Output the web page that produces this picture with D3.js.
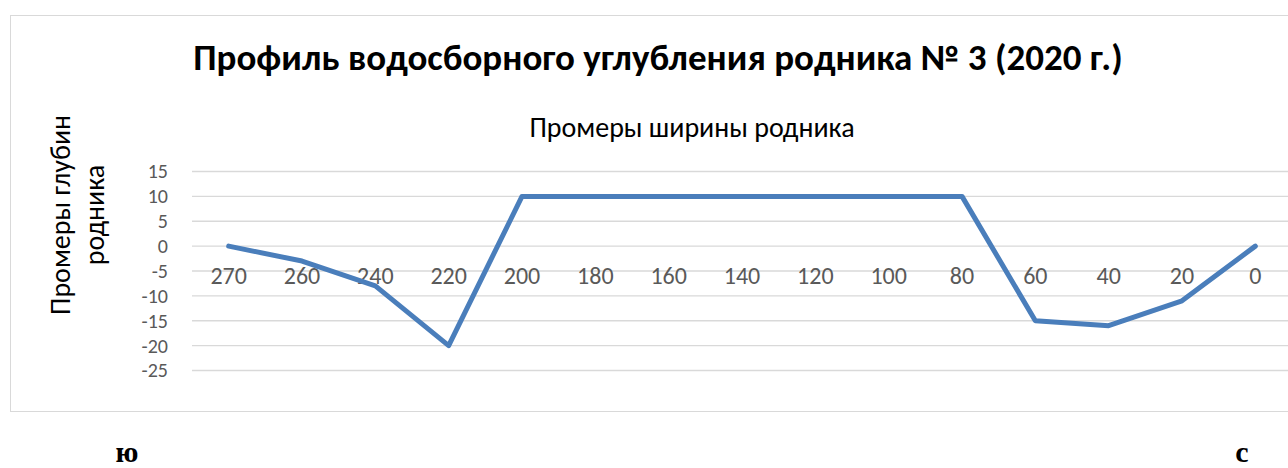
<!DOCTYPE html>
<html>
<head>
<meta charset="utf-8">
<script src="https://cdn.jsdelivr.net/npm/d3@7"></script>
<style>
  body { margin: 0; background: #fff; }
  text { font-family: Carlito, "Open Sans", "Noto Sans", sans-serif; }
</style>
</head>
<body>
<svg id="chart" width="1288" height="468"></svg>
<script>
const categories = ["270", "260", "240", "220", "200", "180", "160", "140", "120", "100", "80", "60", "40", "20", "0"];
const depths = [0, -3, -8, -20, 10, 10, 10, 10, 10, 10, 10, -15, -16, -11, 0];
const yTicks = [15, 10, 5, 0, -5, -10, -15, -20, -25];

const svg = d3.select("#chart");
const sans = 'Carlito, "Open Sans", "Noto Sans", sans-serif';

// chart frame
svg.append("rect")
  .attr("x", 10.5).attr("y", 15.5)
  .attr("width", 1300).attr("height", 396)
  .attr("fill", "#fff").attr("stroke", "#d9d9d9");

const x = d3.scaleBand().domain(categories).range([192, 1292]);
const y = d3.scaleLinear().domain([-25, 15]).range([370.5, 171.5]);

// gridlines
svg.append("g").selectAll("line").data(yTicks).join("line")
  .attr("x1", 192).attr("x2", 1292)
  .attr("y1", d => y(d)).attr("y2", d => y(d))
  .attr("stroke", "#d9d9d9").attr("stroke-width", 1.3);

// y axis labels (plain hyphen, like Excel)
const yAxis = svg.append("g")
  .attr("transform", "translate(176,0)")
  .call(d3.axisLeft(y).tickValues(yTicks).tickFormat(d => String(d)).tickSize(0).tickPadding(8));
yAxis.select(".domain").remove();
yAxis.selectAll("text")
  .attr("font-size", 20).attr("fill", "#595959")
  .style("font-family", sans);

// category labels sit at the zero line
const xAxis = svg.append("g")
  .attr("transform", `translate(0,${y(0)})`)
  .call(d3.axisBottom(x).tickSize(0).tickPadding(21));
xAxis.select(".domain").remove();
xAxis.selectAll("text")
  .attr("font-size", 24).attr("fill", "#595959")
  .style("font-family", sans);

// the profile line
const line = d3.line()
  .x((d, i) => x(categories[i]) + x.bandwidth() / 2)
  .y(d => y(d));
svg.append("path")
  .datum(depths)
  .attr("d", line)
  .attr("fill", "none")
  .attr("stroke", "#4a7ebb")
  .attr("stroke-width", 5)
  .attr("stroke-linejoin", "round")
  .attr("stroke-linecap", "round");

// titles
svg.append("text")
  .attr("x", 658).attr("y", 70)
  .attr("text-anchor", "middle")
  .attr("font-size", 37).attr("font-weight", "bold")
  .text("Профиль водосборного углубления родника № 3 (2020 г.)");

svg.append("text")
  .attr("x", 692).attr("y", 137)
  .attr("text-anchor", "middle")
  .attr("font-size", 28)
  .text("Промеры ширины родника");

const yt = svg.append("text")
  .attr("transform", "translate(70,215) rotate(-90)")
  .attr("text-anchor", "middle")
  .attr("font-size", 28);
yt.append("tspan").attr("x", 0).attr("y", 0).text("Промеры глубин");
yt.append("tspan").attr("x", 0).attr("y", 34).text("родника");

// compass letters under the chart
svg.append("text")
  .attr("x", 127).attr("y", 462)
  .attr("text-anchor", "middle")
  .attr("font-size", 30).attr("font-weight", "bold")
  .style("font-family", '"Liberation Serif", "DejaVu Serif", serif')
  .text("ю");
svg.append("text")
  .attr("x", 1242).attr("y", 462)
  .attr("text-anchor", "middle")
  .attr("font-size", 30).attr("font-weight", "bold")
  .style("font-family", '"Liberation Serif", "DejaVu Serif", serif')
  .text("с");
</script>
</body>
</html>
